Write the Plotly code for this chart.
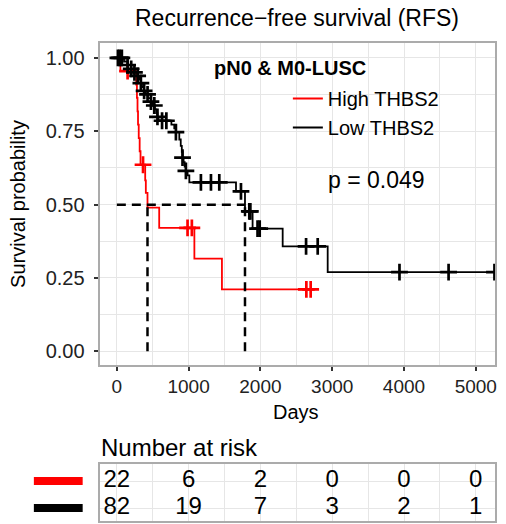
import plotly.graph_objects as go

# ---- Kaplan–Meier estimates (step times in days, survival after each step) ----
high_times = [0, 50, 270, 280, 288, 295, 305, 318, 330, 395, 404, 427, 590, 1080, 1464]
high_surv = [1.0, 0.955, 0.909, 0.864, 0.818, 0.773, 0.727, 0.682, 0.636, 0.583, 0.540,
             0.490, 0.421, 0.316, 0.211]
high_censor = [150, 365, 985, 1045, 2640, 2700]

low_times = [0, 100, 150, 195, 245, 290, 320, 335, 350, 380, 400, 430, 475, 500, 530, 550,
             566, 580, 760, 800, 823, 870, 890, 905, 915, 930, 945, 962, 985, 1010, 1660,
             1785, 1891, 2310, 2937]
low_surv = [1.0, 0.988, 0.976, 0.963, 0.951, 0.939, 0.926, 0.914, 0.901, 0.888, 0.876, 0.863,
            0.851, 0.838, 0.825, 0.812, 0.799, 0.786, 0.773, 0.760, 0.747, 0.722, 0.700,
            0.680, 0.660, 0.645, 0.630, 0.615, 0.600, 0.576, 0.545, 0.477, 0.418, 0.358,
            0.270]
low_censor = [15, 40, 70, 150, 200, 245, 290, 335, 380, 428, 475, 522, 566, 630, 690, 823,
              915, 962, 1171, 1311, 1427, 1729, 1845, 1860, 1960, 1990, 2636, 2798, 3937,
              4621, 5260]

# ---- number-at-risk table ----
risk_breaks = [0, 1000, 2000, 3000, 4000, 5000]
risk_high = [22, 6, 2, 0, 0, 0]
risk_low = [82, 19, 7, 3, 2, 1]

group_names = ["High THBS2", "Low THBS2"]
group_colors = ["#FF0000", "#000000"]

FONT = "Liberation Sans, Arial, sans-serif"
W, H = 506, 524
X_RANGE = [-240, 5268]


def surv_at(times, surv, t):
    val = surv[0]
    for ti, si in zip(times, surv):
        if ti <= t:
            val = si
    return val


def median_time(times, surv):
    for ti, si in zip(times, surv):
        if si <= 0.5:
            return ti
    return None


def px(x):
    return x / W


def py(y):
    return 1 - y / H


fig = go.Figure()

groups = [
    (high_times, high_surv, high_censor),
    (low_times, low_surv, low_censor),
]

# survival curves and censor ticks
for (times, surv, cens), name, col in zip(groups, group_names, group_colors):
    end_t = max(times[-1], max(cens))
    fig.add_trace(go.Scatter(
        x=times + [end_t], y=surv + [surv[-1]],
        mode="lines", line=dict(color=col, width=1.8, shape="hv"),
        name=name, showlegend=True, xaxis="x", yaxis="y"))
    fig.add_trace(go.Scatter(
        x=cens, y=[surv_at(times, surv, c) for c in cens],
        mode="markers",
        marker=dict(symbol="cross-thin", size=12, line=dict(color=col, width=2.7)),
        showlegend=False, hoverinfo="skip", xaxis="x", yaxis="y"))

# median survival reference lines
medians = [median_time(t, s) for t, s, _ in groups]
med_max = max(m for m in medians if m is not None)
dash_style = dict(color="black", width=2.5, dash="9px,6px")
fig.add_trace(go.Scatter(x=[0, med_max], y=[0.5, 0.5], mode="lines", line=dash_style,
                         showlegend=False, hoverinfo="skip", xaxis="x", yaxis="y"))
for m in medians:
    fig.add_trace(go.Scatter(x=[m, m], y=[0, 0.5], mode="lines", line=dash_style,
                             showlegend=False, hoverinfo="skip", xaxis="x", yaxis="y"))

# risk table numbers
for counts, row in [(risk_high, 2), (risk_low, 1)]:
    fig.add_trace(go.Scatter(
        x=risk_breaks, y=[row] * len(risk_breaks), text=[str(c) for c in counts],
        mode="text", textposition="middle center",
        textfont=dict(family=FONT, size=24, color="black"),
        showlegend=False, hoverinfo="skip", xaxis="x2", yaxis="y2"))

grid_col = "#E6E6E6"
border_col = "#ABABAB"
x_dom = [px(100), px(497)]

axis_common = dict(showline=True, mirror=True, linecolor=border_col, linewidth=2,
                   zeroline=False, gridcolor=grid_col, gridwidth=1.2)

fig.update_layout(
    width=W, height=H,
    margin=dict(l=0, r=0, t=0, b=0),
    paper_bgcolor="white", plot_bgcolor="white",
    font=dict(family=FONT, color="black"),
    showlegend=True,
    legend=dict(x=px(289), y=py(79), xanchor="left", yanchor="top",
                bgcolor="rgba(0,0,0,0)", borderwidth=0,
                font=dict(family=FONT, size=20, color="black"),
                itemwidth=30, tracegroupgap=0),
    xaxis=dict(domain=x_dom, range=X_RANGE, anchor="y",
               tickvals=risk_breaks, ticktext=[str(v) for v in risk_breaks],
               ticks="outside", ticklen=4, tickwidth=1.5, tickcolor="#333333",
               tickfont=dict(family=FONT, size=19, color="#222222"),
               minor=dict(dtick=500, tick0=0, showgrid=True, gridcolor=grid_col,
                          gridwidth=1, ticks=""),
               **axis_common),
    yaxis=dict(domain=[py(364.5), py(43.3)], range=[-0.045, 1.05], anchor="x",
               tickvals=[0, 0.25, 0.5, 0.75, 1.0],
               ticktext=["0.00", "0.25", "0.50", "0.75", "1.00"],
               ticks="outside", ticklen=4, tickwidth=1.5, tickcolor="#333333",
               ticklabelstandoff=5,
               tickfont=dict(family=FONT, size=20, color="#222222"),
               minor=dict(dtick=0.125, tick0=0, showgrid=True, gridcolor=grid_col,
                          gridwidth=1, ticks=""),
               **axis_common),
    xaxis2=dict(domain=x_dom, range=X_RANGE, anchor="y2",
                tickvals=risk_breaks, showticklabels=False, ticks="",
                minor=dict(dtick=500, tick0=0, showgrid=True, gridcolor=grid_col,
                           gridwidth=1, ticks=""),
                **axis_common),
    yaxis2=dict(domain=[py(521), py(464.3)], range=[0.52, 2.62], anchor="x2",
                tickvals=[1, 2], showticklabels=False, ticks="",
                **axis_common),
)

# coloured strata keys beside the risk table rows
for row, col in [(2, group_colors[0]), (1, group_colors[1])]:
    fig.add_shape(type="line", xref="paper", yref="y2",
                  x0=px(34), x1=px(83), y0=row, y1=row,
                  line=dict(color=col, width=8))

annotations = [
    dict(text="Recurrence\u2212free survival (RFS)", x=px(298), y=py(18),
         xanchor="center", yanchor="middle", font=dict(size=23)),
    dict(text="<b>pN0 & M0-LUSC</b>", x=px(213), y=py(68),
         xanchor="left", yanchor="middle", font=dict(size=20)),
    dict(text="p = 0.049", x=px(327), y=py(180),
         xanchor="left", yanchor="middle", font=dict(size=23)),
    dict(text="Days", x=px(297), y=py(412),
         xanchor="center", yanchor="middle", font=dict(size=20)),
    dict(text="Survival probability", x=px(18), y=py(204), textangle=-90,
         xanchor="center", yanchor="middle", font=dict(size=20)),
    dict(text="Number at risk", x=px(99), y=py(447),
         xanchor="left", yanchor="middle", font=dict(size=24)),
]
for a in annotations:
    a.update(xref="paper", yref="paper", showarrow=False)
    a["font"] = dict(family=FONT, color="black", **a["font"])
    fig.add_annotation(**a)

fig.write_html("out.html")
